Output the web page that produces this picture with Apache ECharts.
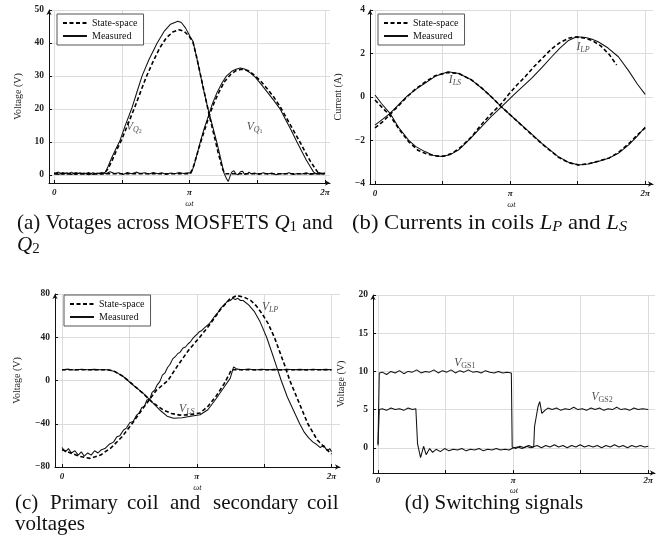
<!DOCTYPE html>
<html>
<head>
<meta charset="utf-8">
<script src="https://cdn.jsdelivr.net/npm/echarts@6/dist/echarts.min.js"></script>
<style>html,body{margin:0;padding:0;background:#fff;}#c{width:670px;height:545px;}</style>
</head>
<body>
<div id="c"></div>
<script>
const PI = Math.PI;
// ---------- tick values / labels ----------
const xTickValues = [0, PI / 2, PI, 3 * PI / 2, 2 * PI];
const xLabelValues = [0, PI, 2 * PI];
const xLabelTexts = ['0', 'π', '2π'];
const yTicksA = [0, 10, 20, 30, 40, 50];
const yTicksB = [-4, -2, 0, 2, 4];
const yTicksC = [-80, -40, 0, 40, 80];
const yTicksD = [0, 5, 10, 15, 20];

// ---------- (a) voltages across MOSFETs ----------
const aQ2Sim = [[0,0.3],[0.6,0.3],[1.15,0.3],[1.25,1.8],[1.35,4.5],[1.45,7.5],[1.56,10.5],[1.7,15],[1.87,20.5],[2.0,25],[2.13,29.5],[2.3,34.5],[2.45,38.5],[2.6,41.5],[2.75,43.3],[2.9,44],[3.02,43.5],[3.12,42.2],[3.22,40.3],[3.3,36],[3.4,30],[3.5,24],[3.6,18],[3.7,12.5],[3.8,7],[3.9,2],[3.96,0.3],[4.5,0.3],[5.5,0.3],[6.283,0.3]];
const aQ2Meas = [[0,0.6],[0.1,0.1],[0.2,0.7],[0.3,0.2],[0.4,0.8],[0.5,0.1],[0.6,0.6],[0.7,0.2],[0.8,0.7],[0.9,0.1],[1.0,0.5],[1.1,0.3],[1.19,0.8],[1.25,2.5],[1.33,5],[1.42,7.5],[1.53,10.5],[1.65,15],[1.81,20.5],[1.93,25.5],[2.04,30],[2.2,35],[2.39,40],[2.55,43.5],[2.7,45.7],[2.87,46.6],[2.95,46.2],[3.05,44.5],[3.15,42],[3.22,40.5],[3.3,36],[3.39,30.5],[3.48,25],[3.57,20],[3.68,14.5],[3.78,9.5],[3.87,4.5],[3.94,0.5],[4.0,-1.2],[4.04,-2],[4.08,-0.5],[4.12,0.8],[4.17,1.2],[4.22,0.2],[4.27,0.0],[4.32,0.9],[4.37,1.1],[4.42,0.1],[4.47,0.2],[4.52,0.8],[4.57,0.3],[4.65,0.5],[4.75,0.1],[4.85,0.6],[4.95,0.2],[5.05,0.5],[5.15,0.0],[5.25,0.4],[5.35,0.2],[5.45,0.6],[5.55,0.1],[5.65,0.4],[5.75,0.2],[5.85,0.6],[5.95,0.1],[6.05,0.4],[6.15,0.2],[6.283,0.5]];
const aQ1Sim = [[0,0.3],[1.0,0.3],[2.0,0.3],[3.15,0.3],[3.22,2],[3.3,5.5],[3.39,9.5],[3.5,14],[3.6,18],[3.7,21.5],[3.82,25],[3.95,28.2],[4.1,30.5],[4.22,31.6],[4.35,32],[4.5,31.6],[4.65,30.2],[4.8,28.3],[4.95,26],[5.1,23.5],[5.25,20.5],[5.4,17],[5.55,13.5],[5.7,10],[5.82,7],[5.95,4],[6.05,2],[6.13,0.5],[6.283,0.3]];
const aQ1Meas = [[0,0.4],[0.1,0.8],[0.2,0.2],[0.3,0.6],[0.4,0.1],[0.5,0.7],[0.6,0.3],[0.7,0.5],[0.8,0.0],[0.9,0.6],[1.0,0.2],[1.1,0.7],[1.2,0.3],[1.3,0.9],[1.4,0.4],[1.5,0.6],[1.6,0.1],[1.7,0.7],[1.8,0.3],[1.9,0.8],[2.0,0.4],[2.1,0.6],[2.2,0.2],[2.3,0.7],[2.4,0.3],[2.5,0.6],[2.6,0.1],[2.7,0.5],[2.8,0.3],[2.9,0.7],[3.0,0.4],[3.1,0.6],[3.18,0.5],[3.25,3],[3.32,6.5],[3.39,10],[3.48,14],[3.57,17.5],[3.67,21.5],[3.78,25],[3.9,28],[4.0,30],[4.12,31.4],[4.22,32],[4.32,32.4],[4.42,32.1],[4.52,31.2],[4.66,29.7],[4.8,27.5],[4.95,25],[5.1,22.5],[5.24,20],[5.38,16.5],[5.5,13.5],[5.63,10],[5.75,7],[5.85,4.5],[5.94,2.5],[6.02,0.8],[6.08,0.3],[6.15,0.7],[6.22,0.2],[6.283,0.5]];
const aLabels = [[1.85, 14.5, 'V', 'Q', '2'], [4.65, 14.5, 'V', 'Q', '1']];

// ---------- (b) coil currents ----------
const bLPSim = [[0,-0.14],[0.2,-0.55],[0.35,-0.85],[0.55,-1.45],[0.78,-2.05],[1.0,-2.45],[1.2,-2.62],[1.45,-2.72],[1.6,-2.72],[1.8,-2.58],[2.0,-2.3],[2.25,-1.82],[2.48,-1.25],[2.7,-0.78],[2.94,-0.3],[3.1,0.1],[3.3,0.55],[3.5,0.95],[3.7,1.4],[3.9,1.8],[4.1,2.2],[4.3,2.5],[4.5,2.7],[4.65,2.76],[4.85,2.72],[5.05,2.6],[5.25,2.35],[5.45,1.95],[5.62,1.47]];
const bLPMeas = [[0,0.09],[0.15,-0.3],[0.35,-0.75],[0.55,-1.4],[0.78,-1.98],[0.95,-2.28],[1.16,-2.51],[1.35,-2.68],[1.55,-2.74],[1.75,-2.65],[1.94,-2.44],[2.2,-1.95],[2.48,-1.36],[2.7,-0.9],[2.94,-0.45],[3.22,0.09],[3.42,0.45],[3.64,0.86],[3.88,1.35],[4.11,1.85],[4.3,2.25],[4.5,2.6],[4.69,2.77],[4.9,2.74],[5.05,2.66],[5.19,2.54],[5.42,2.25],[5.66,1.85],[5.9,1.2],[6.1,0.6],[6.283,0.12]];
const bLSSim = [[0,-1.42],[0.2,-1.1],[0.35,-0.8],[0.55,-0.4],[0.74,0.0],[0.95,0.38],[1.16,0.68],[1.4,0.98],[1.7,1.13],[1.95,1.08],[2.25,0.78],[2.5,0.38],[2.71,0.0],[2.94,-0.45],[3.2,-0.92],[3.49,-1.45],[3.88,-2.15],[4.26,-2.76],[4.5,-3.02],[4.73,-3.12],[4.95,-3.08],[5.19,-2.95],[5.45,-2.8],[5.66,-2.55],[5.9,-2.15],[6.1,-1.75],[6.283,-1.42]];
const bLSMeas = [[0,-1.29],[0.18,-1.02],[0.35,-0.75],[0.55,-0.35],[0.74,0.03],[0.95,0.35],[1.16,0.63],[1.4,0.95],[1.7,1.16],[1.95,1.08],[2.25,0.78],[2.5,0.38],[2.71,0.0],[2.94,-0.45],[3.2,-0.92],[3.49,-1.43],[3.88,-2.13],[4.26,-2.74],[4.5,-3.0],[4.73,-3.13],[4.95,-3.08],[5.19,-2.97],[5.45,-2.8],[5.66,-2.59],[5.9,-2.2],[6.1,-1.8],[6.283,-1.38]];
const bLabels = [[1.86, 0.8, 'I', 'L', 'S'], [4.84, 2.3, 'I', 'L', 'P']];

// ---------- (c) coil voltages ----------
const cLPSim = [[0,-64],[0.2,-67],[0.4,-70],[0.65,-72],[0.9,-69],[1.15,-62],[1.4,-52],[1.65,-39],[1.9,-25],[2.2,-9],[2.47,0],[2.7,14],[2.95,28],[3.21,40],[3.45,52],[3.7,66],[3.9,75],[4.07,78.6],[4.25,77],[4.4,74],[4.53,69],[4.66,62],[4.8,53],[4.95,40],[5.08,26],[5.2,13],[5.31,0],[5.52,-20],[5.73,-40],[5.95,-55],[6.15,-63],[6.283,-68]];
const cLPMeas = [[0,-62],[0.08,-66],[0.15,-63],[0.22,-67],[0.3,-65],[0.38,-69],[0.45,-66],[0.52,-70],[0.6,-67],[0.68,-69],[0.76,-65],[0.84,-67],[0.92,-64],[1.0,-63],[1.1,-59],[1.2,-57],[1.28,-52],[1.35,-51],[1.43,-46],[1.5,-44],[1.58,-39],[1.66,-38],[1.74,-32],[1.8,-30],[1.86,-25],[1.92,-24],[1.98,-18],[2.05,-17],[2.1,-11],[2.16,-9],[2.22,-4],[2.28,-1],[2.34,5],[2.4,7],[2.46,12],[2.52,15],[2.58,20],[2.64,22],[2.7,25],[2.75,26],[2.82,30],[2.88,31],[2.94,34],[3.0,36],[3.05,39],[3.1,41],[3.15,43],[3.2,45],[3.25,46],[3.3,48],[3.36,50],[3.42,52],[3.48,55],[3.55,59],[3.62,62],[3.7,67],[3.78,70],[3.85,73],[3.92,74],[3.98,76],[4.04,75],[4.1,76],[4.16,74],[4.22,74],[4.35,70],[4.48,64],[4.62,54],[4.77,40],[4.9,25],[5.0,13],[5.11,0],[5.25,-15],[5.4,-28],[5.54,-40],[5.65,-48],[5.75,-53],[5.85,-57],[5.93,-59],[6.02,-62],[6.1,-60],[6.18,-65],[6.24,-63],[6.283,-66]];
const cLSSim = [[0,10],[0.5,10],[1.05,10],[1.2,8.8],[1.4,4.5],[1.6,-2],[1.89,-12],[2.1,-20],[2.35,-27],[2.55,-30.5],[2.75,-32],[2.95,-31.8],[3.22,-30],[3.4,-24],[3.6,-14],[3.78,-3],[3.9,6],[3.95,10],[4.5,10],[5.5,10],[6.283,10]];
const cLSMeas = [[0,10],[0.15,10.5],[0.3,9.8],[0.45,10.4],[0.6,9.9],[0.75,10.3],[0.9,10],[1.07,10],[1.25,8],[1.45,3],[1.62,-3],[1.89,-11.7],[2.1,-20],[2.3,-28],[2.45,-33],[2.6,-35],[2.8,-34.5],[3.0,-33],[3.22,-31.7],[3.4,-27],[3.6,-16.4],[3.78,-6],[3.92,2],[4.0,12.5],[4.08,10.5],[4.2,10],[4.35,10.6],[4.5,9.8],[4.65,10.4],[4.8,9.9],[4.95,10.3],[5.1,9.8],[5.25,10.4],[5.4,10],[5.55,10.3],[5.7,9.8],[5.85,10.4],[6.0,9.9],[6.15,10.3],[6.283,10]];
const cLabels = [[4.85, 68, 'V', 'L', 'P'], [2.91, -26, 'V', 'L', 'S']];

// ---------- (d) switching signals ----------
const dGS1 = [[0,0.5],[0.03,9.8],[0.1,9.9],[0.2,9.6],[0.3,10],[0.4,9.8],[0.5,10.1],[0.6,9.7],[0.7,10],[0.8,9.9],[0.9,10.2],[1.0,9.8],[1.1,10],[1.2,9.9],[1.3,10.2],[1.4,9.8],[1.5,10.1],[1.6,9.9],[1.7,10.2],[1.8,9.8],[1.9,10.1],[2.0,9.9],[2.1,10.2],[2.2,9.9],[2.3,10],[2.4,9.8],[2.5,10.1],[2.6,9.9],[2.7,9.8],[2.8,10],[2.9,9.8],[3.0,9.9],[3.1,9.8],[3.12,0.1],[3.2,-0.1],[3.3,0.2],[3.4,0],[3.5,0.3],[3.6,0.1],[3.7,0.3],[3.8,0],[3.9,0.3],[4.0,0.1],[4.1,0.4],[4.2,0.1],[4.3,0.3],[4.4,0],[4.5,0.3],[4.6,0.1],[4.7,0.4],[4.8,0.1],[4.9,0.3],[5.0,0.1],[5.1,0.3],[5.2,0],[5.3,0.3],[5.4,0.1],[5.5,0.4],[5.6,0.1],[5.7,0.3],[5.8,0],[5.9,0.3],[6.0,0.1],[6.1,0.3],[6.2,0.1],[6.283,0.2]];
const dGS2 = [[0,0.3],[0.03,5],[0.1,5.1],[0.2,4.9],[0.3,5.2],[0.4,5],[0.5,5.1],[0.6,4.9],[0.7,5.2],[0.8,5],[0.88,5.1],[0.92,0.5],[0.99,-1.3],[1.06,0.2],[1.12,-0.9],[1.2,-0.1],[1.27,-0.6],[1.35,-0.2],[1.45,-0.5],[1.55,-0.1],[1.65,-0.4],[1.75,-0.2],[1.85,-0.3],[1.95,-0.1],[2.05,-0.4],[2.15,-0.2],[2.25,-0.3],[2.35,-0.1],[2.45,-0.4],[2.55,-0.2],[2.65,-0.3],[2.75,-0.1],[2.85,-0.3],[2.95,-0.2],[3.05,-0.3],[3.15,0],[3.25,0.1],[3.35,-0.1],[3.45,0.2],[3.55,0],[3.62,0.1],[3.64,2.8],[3.68,4.1],[3.72,5.4],[3.76,6.05],[3.81,4.5],[3.88,4.9],[3.95,5.2],[4.05,5],[4.15,5.2],[4.25,4.9],[4.35,5.1],[4.45,5],[4.55,5.3],[4.65,5],[4.75,5.1],[4.85,4.9],[4.95,5.2],[5.05,5],[5.15,5.2],[5.25,4.9],[5.35,5.1],[5.45,5],[5.55,5.3],[5.65,5],[5.75,5.1],[5.85,4.9],[5.95,5.2],[6.05,5],[6.15,5.1],[6.283,5]];
const dLabels = [[2.02, 11.1, 'V', '', 'GS1'], [5.21, 6.7, 'V', '', 'GS2']];

const legendNames = ['State-space', 'Measured'];
const yNames = ['Voltage (V)', 'Current (A)', 'Voltage (V)', 'Voltage (V)'];
const xName = 'ωt';

// ---------- layout ----------
const grids = [
  {left: 49, top: 10, width: 281, height: 173},
  {left: 370, top: 10, width: 283, height: 174},
  {left: 55, top: 294, width: 285, height: 173},
  {left: 373, top: 295, width: 282, height: 178}
];
const xRanges = [[-0.12, 6.40], [-0.116, 6.465], [-0.163, 6.48], [-0.116, 6.44]];
const yRanges = [[-2.5, 50], [-4, 4], [-80, 80], [-3.3, 20]];
const yTicks = [yTicksA, yTicksB, yTicksC, yTicksD];
const xNameGaps = [16, 16, 16, 12];
const xLabelMargins = [5, 5, 5, 3];

const SERIF = 'Liberation Serif';
const fmtNum = v => (v < 0 ? '\u2212' + Math.abs(v) : String(v));
const fmtX = v => {
  let best = 0;
  xLabelValues.forEach((t, i) => { if (Math.abs(t - v) < Math.abs(xLabelValues[best] - v)) best = i; });
  return xLabelTexts[best];
};

const xAxes = grids.map((g, i) => ({
  type: 'value', gridIndex: i, min: xRanges[i][0], max: xRanges[i][1],
  name: xName, nameLocation: 'middle', nameGap: xNameGaps[i],
  nameTextStyle: {fontFamily: SERIF, fontStyle: 'italic', fontSize: 8.5, color: '#222'},
  axisLine: {show: true, onZero: false, lineStyle: {color: '#111', width: 1}, symbol: ['none', 'arrow'], symbolSize: [4, 5]},
  axisTick: {show: true, inside: true, length: 3, customValues: xTickValues, lineStyle: {color: '#111'}},
  axisLabel: {customValues: xLabelValues, formatter: fmtX, fontFamily: SERIF, fontStyle: 'italic', fontWeight: 'bold', fontSize: 9, color: '#222', margin: xLabelMargins[i]},
  splitLine: {show: true, lineStyle: {color: '#dcdcdc', width: 1}}
}));
const yAxes = grids.map((g, i) => ({
  type: 'value', gridIndex: i, min: yRanges[i][0], max: yRanges[i][1],
  name: yNames[i], nameLocation: 'middle', nameGap: i === 0 ? 26 : (i === 2 ? 33 : 27),
  nameTextStyle: {fontFamily: SERIF, fontSize: 10, color: '#222'},
  axisLine: {show: true, onZero: false, lineStyle: {color: '#111', width: 1}, symbol: ['none', 'arrow'], symbolSize: [4, 5]},
  axisTick: {show: true, inside: true, length: 3, customValues: yTicks[i], lineStyle: {color: '#111'}},
  axisLabel: {customValues: yTicks[i], formatter: fmtNum, fontFamily: SERIF, fontWeight: 'bold', fontSize: 9.5, color: '#222', margin: 5},
  splitLine: {show: true, lineStyle: {color: '#dcdcdc', width: 1}}
}));

const simStyle = {color: '#000', width: 1.6, type: [4, 2.5]};
const measStyle = {color: '#111', width: 1.05};
function line(name, gi, data, style) {
  return {name, type: 'line', xAxisIndex: gi, yAxisIndex: gi, data, symbol: 'none', showSymbol: false,
    lineStyle: style, itemStyle: {color: '#000'}, animation: false, z: name === legendNames[0] ? 3 : 2};
}
const rich = {
  m: {fontFamily: SERIF, fontStyle: 'italic', fontSize: 11.5, lineHeight: 14, color: '#222'},
  s: {fontFamily: SERIF, fontStyle: 'italic', fontSize: 8, lineHeight: 8, verticalAlign: 'bottom', color: '#222'},
  t: {fontFamily: SERIF, fontSize: 6, lineHeight: 5, verticalAlign: 'bottom', color: '#222'},
  u: {fontFamily: SERIF, fontSize: 8, lineHeight: 8, verticalAlign: 'bottom', color: '#222'}
};
function labels(gi, list) {
  return {type: 'scatter', xAxisIndex: gi, yAxisIndex: gi, symbolSize: 0, animation: false, silent: true,
    data: list.map(l => ({value: [l[0], l[1]], main: l[2], sub: l[3], sub2: l[4]})),
    label: {show: true, position: 'inside', rich,
      formatter: p => {
        const d = p.data;
        if (!d.sub) return '{m|' + d.main + '}{u|' + d.sub2 + '}';
        const s2 = /^[0-9]$/.test(d.sub2) ? '{t|' + d.sub2 + '}' : '{s|' + d.sub2 + '}';
        return '{m|' + d.main + '}{s|' + d.sub + '}' + s2;
      }}};
}

const series = [
  line(legendNames[0], 0, aQ2Sim, simStyle), line(legendNames[1], 0, aQ2Meas, measStyle),
  line(legendNames[0], 0, aQ1Sim, simStyle), line(legendNames[1], 0, aQ1Meas, measStyle),
  labels(0, aLabels),
  line(legendNames[0], 1, bLPSim, simStyle), line(legendNames[1], 1, bLPMeas, measStyle),
  line(legendNames[0], 1, bLSSim, simStyle), line(legendNames[1], 1, bLSMeas, measStyle),
  labels(1, bLabels),
  line(legendNames[0], 2, cLPSim, simStyle), line(legendNames[1], 2, cLPMeas, measStyle),
  line(legendNames[0], 2, cLSSim, simStyle), line(legendNames[1], 2, cLSMeas, measStyle),
  labels(2, cLabels),
  line('GS1', 3, dGS1, measStyle), line('GS2', 3, dGS2, measStyle),
  labels(3, dLabels)
];

function legendAt(left, top) {
  return {orient: 'vertical', left, top, data: legendNames, selectedMode: false,
    itemWidth: 24, itemHeight: 10, itemGap: 3, padding: [4, 6, 4, 5],
    itemStyle: {color: 'rgba(0,0,0,0)', opacity: 0, borderWidth: 0},
    borderColor: '#555', borderWidth: 1, backgroundColor: '#fff',
    textStyle: {fontFamily: SERIF, fontSize: 10, color: '#111'}};
}

const capFont = 21;
const capRich = {
  q: {fontFamily: SERIF, fontStyle: 'italic', fontSize: capFont, lineHeight: 24, color: '#111'},
  sb: {fontFamily: SERIF, fontSize: 15, lineHeight: 15, verticalAlign: 'bottom', color: '#111'},
  si: {fontFamily: SERIF, fontStyle: 'italic', fontSize: 15, lineHeight: 15, verticalAlign: 'bottom', color: '#111'}
};
function cap(x, y, text, align, sx) {
  return {type: 'text', x, y, scaleX: sx || 1, silent: true,
    style: {text, fill: '#111', font: capFont + 'px "' + SERIF + '"', textAlign: align || 'left', textVerticalAlign: 'middle', rich: capRich}};
}
const cWords = [['(c)', 15], ['Primary', 50], ['coil', 127], ['and', 170], ['secondary', 213], ['coil', 307]];

const graphic = [
  cap(17, 223, '(a) Votages across MOSFETS {q|Q}{sb|1} and'),
  cap(17, 245, '{q|Q}{sb|2}'),
  cap(352, 223, '(b) Currents in coils {q|L}{si|P} and {q|L}{si|S}', 'left', 1.08),
  ...cWords.map(w => cap(w[1], 503, w[0])),
  cap(15, 524, 'voltages'),
  cap(494, 503, '(d) Switching signals', 'center')
];

const chart = echarts.init(document.getElementById('c'), null, {renderer: 'canvas'});
chart.setOption({
  backgroundColor: '#fff', animation: false,
  grid: grids, xAxis: xAxes, yAxis: yAxes, series,
  legend: [legendAt(57, 14), legendAt(378, 14), legendAt(64, 295)],
  graphic
});
</script>
</body>
</html>
